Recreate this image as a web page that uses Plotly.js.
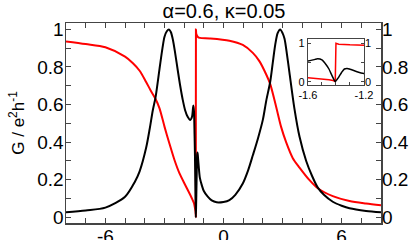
<!DOCTYPE html>
<html>
<head>
<meta charset="utf-8">
<script src="https://cdn.plot.ly/plotly-3.0.1.min.js"></script>
<style>
  html, body { margin: 0; padding: 0; background: #fff; }
  #plot { width: 411px; height: 240px; }
</style>
</head>
<body>
<div id="plot"></div>
<script>
// energy axis and conductance
var xBlack = [-8, -7, -6, -5, -4.5, -4.26, -3.93, -3.75, -3.59, -3.45, -3.25, -3.1, -3.0, -2.88, -2.77,
  -2.67, -2.57, -2.45, -2.32, -2.2, -2.07, -1.95, -1.82, -1.69, -1.6, -1.55, -1.53, -1.5, -1.47, -1.45,
  -1.43, -1.415, -1.405, -1.39, -1.38, -1.36, -1.34, -1.32, -1.3, -1.25, -1.2, -1.1, -1.0, -0.8, -0.6,
  -0.35, 0, 0.3, 0.6, 0.98, 1.25, 1.49, 1.75, 2.0, 2.17, 2.37, 2.5, 2.63, 2.75, 2.88, 3.0, 3.1, 3.22,
  3.35, 3.6, 3.86, 4.2, 4.5, 4.79, 5.1, 5.55, 6.0, 6.4, 7.24, 8];
var gBlack = [0.027, 0.037, 0.052, 0.11, 0.19, 0.245, 0.37, 0.47, 0.57, 0.64, 0.79, 0.9, 0.96, 0.99, 1.0,
  0.985, 0.945, 0.87, 0.78, 0.7, 0.625, 0.57, 0.535, 0.518, 0.535, 0.58, 0.595, 0.565, 0.44, 0.33,
  0.17, 0.06, 0.0, 0.07, 0.12, 0.24, 0.33, 0.345, 0.325, 0.26, 0.21, 0.17, 0.14, 0.11, 0.09,
  0.08, 0.082, 0.092, 0.12, 0.18, 0.25, 0.33, 0.42, 0.52, 0.62, 0.72, 0.82, 0.92, 0.98, 1.0, 0.98, 0.95, 0.87,
  0.77, 0.58, 0.43, 0.3, 0.22, 0.158, 0.12, 0.083, 0.062, 0.048, 0.034, 0.027];

var xRed = [-8, -7, -6, -5, -4.6, -4.26, -3.93, -3.7, -3.45, -3.25, -2.99, -2.74, -2.49, -2.24, -1.9,
  -1.6, -1.5, -1.45, -1.42, -1.405, -1.4, -1.38, -1.3, -1.2, -0.7, 0.3, 0.98, 1.49, 1.83, 2.17, 2.37,
  2.67, 2.93, 3.18, 3.52, 3.86, 4.37, 4.79, 5.55, 6.4, 7.24, 8];
var gRed = [0.936, 0.922, 0.905, 0.855, 0.82, 0.78, 0.72, 0.675, 0.63, 0.58, 0.48, 0.39, 0.305, 0.235, 0.163,
  0.1, 0.075, 0.05, 0.03, 0.005, 1.0, 0.975, 0.96, 0.955, 0.952, 0.94, 0.917, 0.875, 0.83, 0.76, 0.71,
  0.59, 0.48, 0.4, 0.315, 0.265, 0.198, 0.155, 0.113, 0.087, 0.074, 0.065];

var xTicks = [-6, 0, 6];
var xTickText = ['-6', '0', '6'];
var yTicks = [0, 0.2, 0.4, 0.6, 0.8, 1];
var insetXTicks = [-1.6, -1.2];
var insetXTickText = ['-1.6', '-1.2'];
var insetYTicks = [0, 1];

var font = 'Liberation Sans, Arial, sans-serif';
var frame = '#444';

var data = [
  { x: xRed, y: gRed, mode: 'lines', line: { color: '#ff0000', width: 2, shape: 'spline', smoothing: 0.8 }, xaxis: 'x', yaxis: 'y' },
  { x: xBlack, y: gBlack, mode: 'lines', line: { color: '#000000', width: 2, shape: 'spline', smoothing: 0.8 }, xaxis: 'x', yaxis: 'y' },
  { x: [], y: [], xaxis: 'x', yaxis: 'y2' },
  // inset: same curves, zoomed on the Fano dip
  { x: xRed, y: gRed, mode: 'lines', line: { color: '#ff0000', width: 1.5 }, xaxis: 'x2', yaxis: 'y3' },
  { x: xBlack, y: gBlack, mode: 'lines', line: { color: '#000000', width: 1.5, shape: 'spline', smoothing: 0.6 }, xaxis: 'x2', yaxis: 'y3' },
  { x: [], y: [], xaxis: 'x2', yaxis: 'y4' }
];

var layout = {
  width: 411, height: 240,
  margin: { l: 66, r: 30, t: 23, b: 17 },
  showlegend: false,
  paper_bgcolor: '#fff', plot_bgcolor: '#fff',
  font: { family: font, color: '#000' },
  title: { text: 'α=0.6, κ=0.05', font: { size: 20 }, x: 0.545, xref: 'container', y: 0.955, yanchor: 'middle' },
  xaxis: {
    range: [-8, 8], tickvals: xTicks, ticktext: xTickText, ticks: 'inside', ticklen: 5, tickcolor: frame,
    minor: { dtick: 1, ticks: 'inside', ticklen: 5, tickcolor: frame },
    mirror: 'allticks', showline: true, linecolor: frame, linewidth: 1.5,
    showgrid: false, zeroline: false, tickfont: { size: 19 }, ticklabelstandoff: -4
  },
  yaxis: {
    range: [-0.03, 1.034], tickvals: yTicks, ticks: 'inside', ticklen: 5, tickcolor: frame,
    minor: { dtick: 0.1, ticks: 'inside', ticklen: 5, tickcolor: frame },
    mirror: 'allticks', showline: true, linecolor: frame, linewidth: 1.5,
    showgrid: false, zeroline: false, tickfont: { size: 19 }, ticklabelstandoff: -3,
    title: { text: 'G / e<sup>2</sup>h<sup>-1</sup>', font: { size: 17 }, standoff: 8 }
  },
  yaxis2: {
    overlaying: 'y', side: 'right', range: [-0.03, 1.034], tickvals: yTicks,
    ticks: '', showline: false, showgrid: false, zeroline: false, tickfont: { size: 19 }
  },
  xaxis2: {
    domain: [0.768, 0.946], anchor: 'y3', range: [-1.6, -1.2], tickvals: insetXTicks, ticktext: insetXTickText,
    ticks: 'inside', ticklen: 3, tickcolor: frame,
    minor: { dtick: 0.1, ticks: 'inside', ticklen: 3, tickcolor: frame },
    mirror: true, showline: true, linecolor: frame, linewidth: 1.2,
    showgrid: false, zeroline: false, tickfont: { size: 11 }
  },
  yaxis3: {
    domain: [0.69, 0.92], anchor: 'x2', range: [-0.086, 1.11], tickvals: insetYTicks,
    ticks: 'inside', ticklen: 3, tickcolor: frame,
    minor: { dtick: 0.5, ticks: 'inside', ticklen: 3, tickcolor: frame },
    mirror: 'allticks', showline: true, linecolor: frame, linewidth: 1.2,
    showgrid: false, zeroline: false, tickfont: { size: 11 }
  },
  yaxis4: {
    overlaying: 'y3', anchor: 'x2', side: 'right', range: [-0.086, 1.11], tickvals: insetYTicks,
    ticks: '', showline: false, showgrid: false, zeroline: false, tickfont: { size: 11 }
  }
};

Plotly.newPlot('plot', data, layout, { staticPlot: true, displayModeBar: false });
</script>
</body>
</html>
